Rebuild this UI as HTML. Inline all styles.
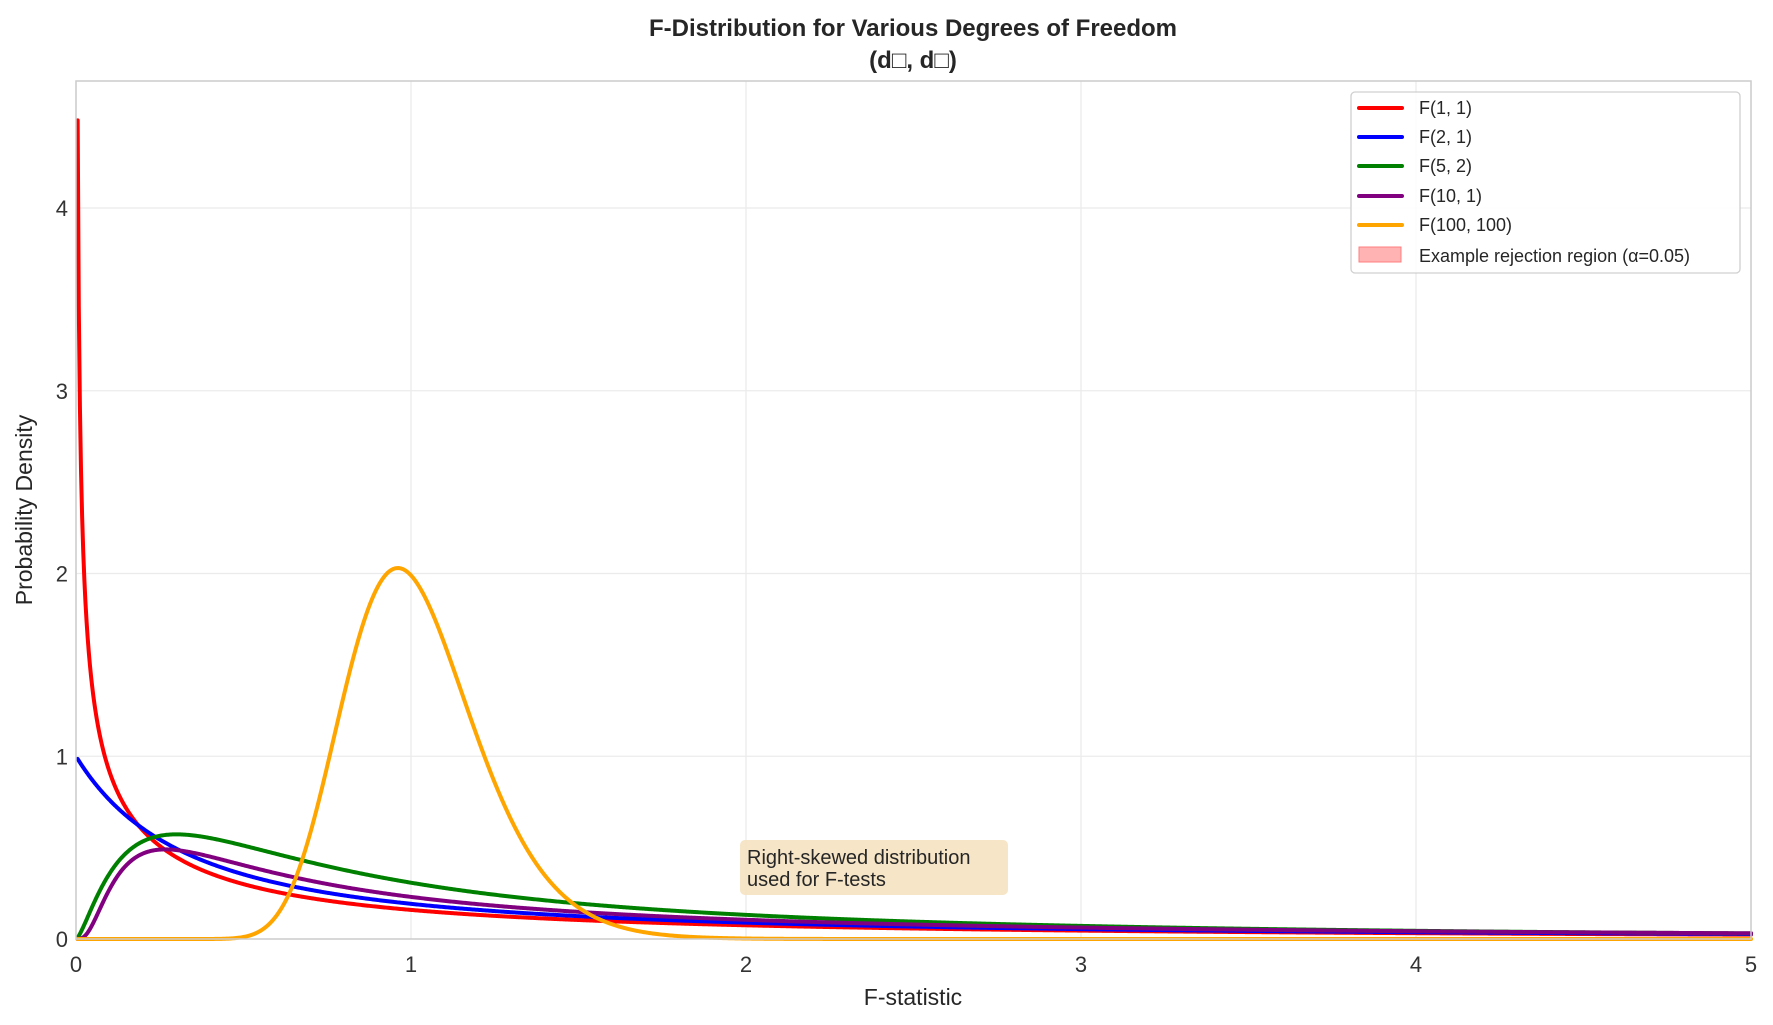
<!DOCTYPE html>
<html><head><meta charset="utf-8"><style>
body{margin:0;background:#fff;}
svg{display:block;font-family:"Liberation Sans",Arial,sans-serif;}
</style></head><body>
<svg id="s" width="1773" height="1025" viewBox="0 0 1773 1025" xmlns="http://www.w3.org/2000/svg">
<rect width="1773" height="1025" fill="#fff"/>
<g id="grid" stroke="#ebebeb" stroke-width="1.3"></g>
<g id="curves" fill="none" stroke-width="4" stroke-linejoin="round" stroke-linecap="round"></g>
<rect x="76" y="81" width="1675" height="858" fill="none" stroke="#cccccc" stroke-width="1.5"/>
<g id="ticks" font-size="22" fill="#333"></g>
<text x="913" y="36" text-anchor="middle" font-size="24" font-weight="bold" fill="#262626">F-Distribution for Various Degrees of Freedom</text>
<text x="913" y="68" text-anchor="middle" font-size="24" font-weight="bold" fill="#262626">(d□, d□)</text>
<text x="913" y="1005" text-anchor="middle" font-size="23" fill="#262626">F-statistic</text>
<text transform="translate(32,510) rotate(-90)" text-anchor="middle" font-size="23" fill="#262626">Probability Density</text>
<rect x="740" y="840" width="268" height="55" rx="5" fill="#f5e4c3" opacity="0.95"/>
<text x="747" y="864" font-size="20" fill="#262626">Right-skewed distribution</text>
<text x="747" y="886" font-size="20" fill="#262626">used for F-tests</text>
<rect x="1351" y="92" width="389" height="181" rx="4" fill="#fff" fill-opacity="0.85" stroke="#d0d0d0" stroke-width="1.3"/>
<g stroke-width="4" stroke-linecap="round">
<line x1="1359" y1="108" x2="1402" y2="108" stroke="#ff0000"/>
<line x1="1359" y1="137" x2="1402" y2="137" stroke="#0000ff"/>
<line x1="1359" y1="166" x2="1402" y2="166" stroke="#008000"/>
<line x1="1359" y1="196" x2="1402" y2="196" stroke="#800080"/>
<line x1="1359" y1="225" x2="1402" y2="225" stroke="#ffa500"/>
</g>
<rect x="1359" y="247" width="42" height="15" fill="#ffb3b3" stroke="#ff7f7f" stroke-width="1"/>
<g font-size="18" fill="#262626">
<text x="1419" y="114">F(1, 1)</text>
<text x="1419" y="143">F(2, 1)</text>
<text x="1419" y="172">F(5, 2)</text>
<text x="1419" y="202">F(10, 1)</text>
<text x="1419" y="231">F(100, 100)</text>
<text x="1419" y="262">Example rejection region (α=0.05)</text>
</g>
</svg>
<script>
var NS="http://www.w3.org/2000/svg";
var L=76,R=1751,T=81,B=939,sx=(R-L)/5,sy=(B-208)/4;
function X(v){return L+v*sx} function Y(v){return B-v*sy}
var g=document.getElementById('grid'),tk=document.getElementById('ticks');
function el(p,t,a,txt){var e=document.createElementNS(NS,t);for(var k in a)e.setAttribute(k,a[k]);if(txt!=null)e.textContent=txt;p.appendChild(e);return e}
for(var i=0;i<=5;i++){el(g,'line',{x1:X(i),x2:X(i),y1:T,y2:B});el(tk,'text',{x:X(i),y:972,'text-anchor':'middle'},i)}
for(var j=0;j<=4;j++){el(g,'line',{x1:L,x2:R,y1:Y(j),y2:Y(j)});el(tk,'text',{x:68,y:Y(j)+8,'text-anchor':'end'},j)}
function lg(z){var c=[676.5203681218851,-1259.1392167224028,771.32342877765313,-176.61502916214059,12.507343278686905,-0.13857109526572012,9.9843695780195716e-6,1.5056327351493116e-7];
 if(z<0.5)return Math.log(Math.PI/Math.sin(Math.PI*z))-lg(1-z);z-=1;var a=0.99999999999980993,t=z+7.5;for(var i=0;i<8;i++)a+=c[i]/(z+i+1);
 return 0.5*Math.log(2*Math.PI)+(z+0.5)*Math.log(t)-t+Math.log(a);}
function pdf(x,a,b){var lb=lg(a/2)+lg(b/2)-lg((a+b)/2);
 return Math.exp(0.5*(a*Math.log(a*x)+b*Math.log(b)-(a+b)*Math.log(a*x+b))-Math.log(x)-lb);}
var S=[[1,1,'#ff0000'],[2,1,'#0000ff'],[5,2,'#008000'],[10,1,'#800080'],[100,100,'#ffa500']];
var cg=document.getElementById('curves');
S.forEach(function(s){var d='';for(var k=0;k<1500;k++){var x=0.005+k*(5-0.005)/1499;var y=pdf(x,s[0],s[1]);if(y>4.7)y=4.7;d+=(k?'L':'M')+X(x).toFixed(2)+','+Y(y).toFixed(2)}
 el(cg,'path',{d:d,stroke:s[2]});});
</script>
</body></html>
